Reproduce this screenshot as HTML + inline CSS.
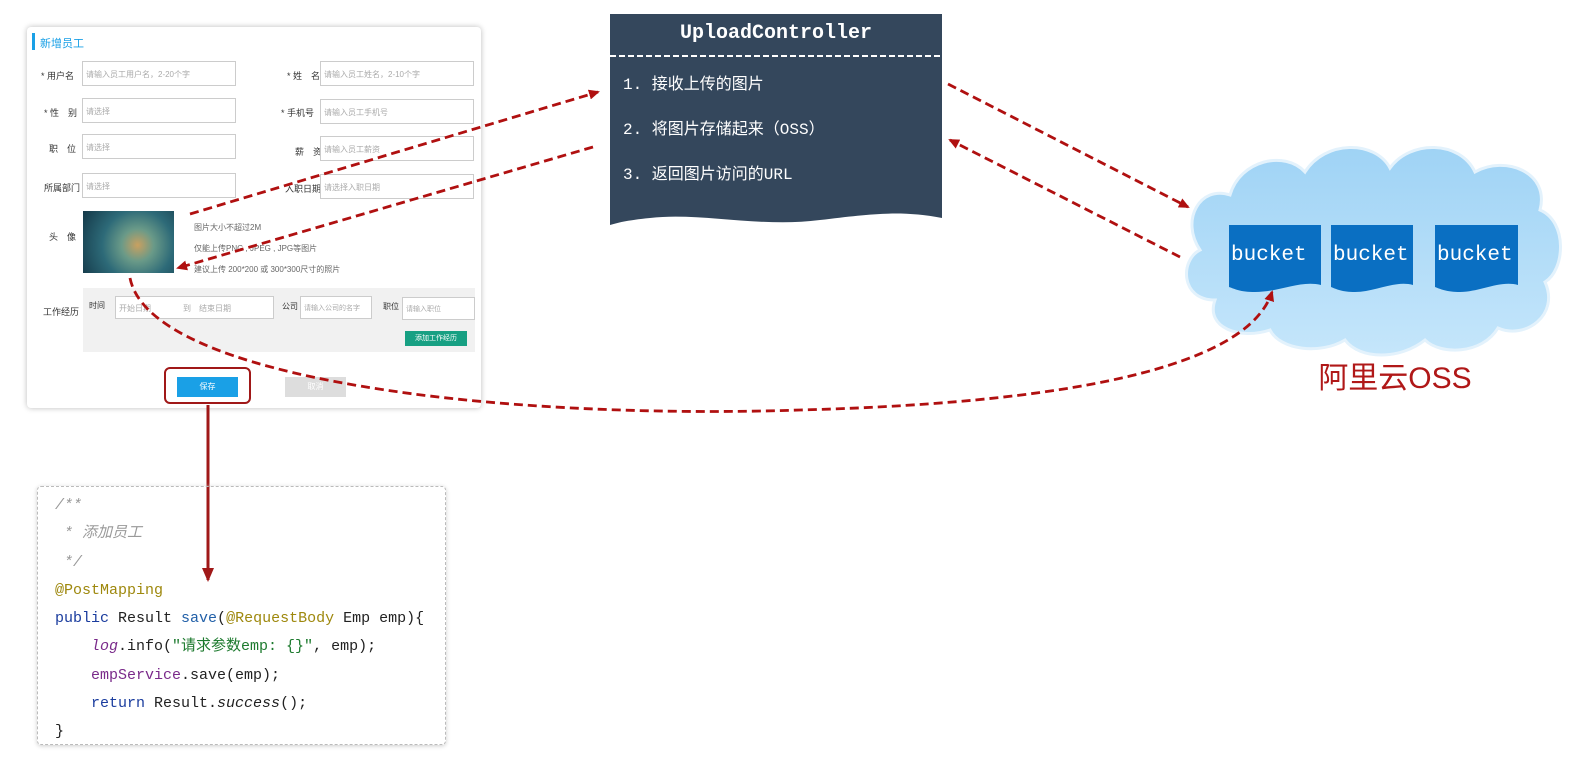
<!DOCTYPE html>
<html><head><meta charset="utf-8"><style>
body{margin:0;width:1579px;height:769px;background:#fff;position:relative;overflow:hidden;font-family:"Liberation Sans","Noto Sans CJK SC",sans-serif}
.a{position:absolute}
.card{left:27px;top:27px;width:454px;height:381px;background:#fff;box-shadow:0 0 6px #bbb;border-radius:4px}
.lbl{font-size:9px;color:#333}
.in{border:1px solid #ccc;height:25px;background:#fff;font-size:8px;color:#aaa;line-height:25px;padding-left:3px;box-sizing:border-box}
.ph{font-size:8px;color:#666}
.code{left:37px;top:486px;width:409px;height:259px;border:1px dashed #bbb;border-radius:4px;box-shadow:0 1px 4px #ccc;font-family:"Liberation Mono","Noto Sans CJK SC",monospace;font-size:15px;line-height:28.3px;padding:5px 0 0 17px;box-sizing:border-box;white-space:pre;color:#222}
.cm{color:#999;font-style:italic}.an{color:#9e880d}.kw{color:#1a3c9e}.fn{color:#2260a8}.it{font-style:italic;color:#7a2a8a}.st{color:#1d7a2e}
</style></head><body>
<div class="a card"></div>
<div class="a" style="left:32px;top:33px;width:3px;height:17px;background:#1aa0e6"></div>
<div class="a" style="left:40px;top:35px;font-size:11px;color:#1aa0e6">新增员工</div>
<div class="a lbl" style="left:41px;top:69px">* 用户名</div>
<div class="a lbl" style="left:44px;top:106px">* 性　别</div>
<div class="a lbl" style="left:49px;top:142px">职　位</div>
<div class="a lbl" style="left:44px;top:181px">所属部门</div>
<div class="a lbl" style="left:49px;top:230px">头　像</div>
<div class="a lbl" style="left:43px;top:305px">工作经历</div>
<div class="a lbl" style="left:287px;top:69px">* 姓　名</div>
<div class="a lbl" style="left:281px;top:106px">* 手机号</div>
<div class="a lbl" style="left:295px;top:145px">薪　资</div>
<div class="a lbl" style="left:285px;top:182px">入职日期</div>
<div class="a in" style="left:82px;top:61px;width:154px">请输入员工用户名，2-20个字</div>
<div class="a in" style="left:82px;top:98px;width:154px">请选择</div>
<div class="a in" style="left:82px;top:134px;width:154px">请选择</div>
<div class="a in" style="left:82px;top:173px;width:154px">请选择</div>
<div class="a in" style="left:320px;top:61px;width:154px">请输入员工姓名，2-10个字</div>
<div class="a in" style="left:320px;top:99px;width:154px">请输入员工手机号</div>
<div class="a in" style="left:320px;top:136px;width:154px">请输入员工薪资</div>
<div class="a in" style="left:320px;top:174px;width:154px">请选择入职日期</div>
<div class="a" style="left:83px;top:211px;width:91px;height:62px;background:radial-gradient(circle at 60% 55%,#c9a060 0,#6a9a88 25%,#2d6a78 55%,#143848 100%)"></div>
<div class="a ph" style="left:194px;top:222px">图片大小不超过2M</div>
<div class="a ph" style="left:194px;top:243px">仅能上传PNG , JPEG , JPG等图片</div>
<div class="a ph" style="left:194px;top:264px">建议上传 200*200 或 300*300尺寸的照片</div>
<div class="a" style="left:83px;top:288px;width:392px;height:64px;background:#f1f1f1"></div>
<div class="a lbl" style="left:89px;top:300px;font-size:8px">时间</div>
<div class="a in" style="left:115px;top:296px;width:159px;height:23px;line-height:23px">开始日期　　　　到　结束日期</div>
<div class="a lbl" style="left:282px;top:301px;font-size:8px">公司</div>
<div class="a in" style="left:300px;top:296px;width:72px;height:23px;line-height:23px;font-size:7px">请输入公司的名字</div>
<div class="a lbl" style="left:383px;top:301px;font-size:8px">职位</div>
<div class="a in" style="left:402px;top:297px;width:73px;height:23px;line-height:23px;font-size:7px">请输入职位</div>
<div class="a" style="left:405px;top:331px;width:62px;height:15px;background:#17a083;color:#fff;font-size:7px;text-align:center;line-height:15px">添加工作经历</div>
<div class="a" style="left:164px;top:367px;width:87px;height:37px;border:2px solid #a01818;border-radius:6px;box-sizing:border-box"></div>
<div class="a" style="left:177px;top:377px;width:61px;height:20px;background:#1aa0e6;color:#fff;font-size:8px;text-align:center;line-height:20px">保存</div>
<div class="a" style="left:285px;top:377px;width:61px;height:20px;background:#ddd;color:#fff;font-size:8px;text-align:center;line-height:20px">取消</div>

<svg class="a" style="left:0;top:0" width="1579" height="769">
<defs><marker id="m" markerWidth="11" markerHeight="10" refX="9" refY="5" orient="auto" markerUnits="userSpaceOnUse"><path d="M0,0L11,5L0,10z" fill="#b01010"/></marker>
<marker id="m2" markerWidth="14" markerHeight="12" refX="12" refY="6" orient="auto" markerUnits="userSpaceOnUse"><path d="M0,0L14,6L0,12z" fill="#a01818"/></marker>
<linearGradient id="cg" x1="0" y1="0" x2="0" y2="1"><stop offset="0" stop-color="#9fd3f5"/><stop offset="1" stop-color="#c5e6fb"/></linearGradient></defs>
<path d="M610,14H942V218C900,210 870,214 820,220 C760,228 700,212 650,218 C630,220 620,222 610,225Z" fill="#34475c"/>
<line x1="610" y1="56" x2="942" y2="56" stroke="#fff" stroke-width="2" stroke-dasharray="6,3"/>
<text x="776" y="38" fill="#fff" font-family="Liberation Mono,monospace" font-weight="bold" font-size="20" text-anchor="middle">UploadController</text>
<g fill="#fff" font-family="Liberation Mono,Noto Sans CJK SC,monospace" font-size="16">
<text x="623" y="89">1. 接收上传的图片</text>
<text x="623" y="134">2. 将图片存储起来（OSS）</text>
<text x="623" y="179">3. 返回图片访问的URL</text></g>
<path d="M1215,300 C1180,300 1180,260 1200,250 C1180,220 1200,185 1230,195 C1240,160 1285,150 1305,172 C1325,140 1375,140 1390,168 C1410,140 1460,140 1475,172 C1505,155 1550,172 1540,210 C1568,222 1565,270 1545,282 C1560,315 1525,340 1498,328 C1482,355 1440,355 1425,340 C1400,360 1360,360 1345,340 C1320,355 1280,350 1270,330 C1240,340 1205,328 1215,300Z" fill="url(#cg)" stroke="#e3f2fc" stroke-width="3"/>
<g fill="#0a6fc2">
<path d="M1229,225H1321V285C1300,280 1280,292 1255,292C1240,292 1235,289 1229,287Z"/>
<path d="M1331,225H1413V285C1395,280 1375,292 1355,292C1342,292 1336,289 1331,287Z"/>
<path d="M1435,225H1518V285C1500,280 1480,292 1460,292C1447,292 1440,289 1435,287Z"/></g>
<g fill="#fff" font-family="Liberation Mono,monospace" font-size="21">
<text x="1231" y="260">bucket</text><text x="1333" y="260">bucket</text><text x="1437" y="260">bucket</text></g>
<text x="1395" y="388" fill="#b01818" font-size="30" text-anchor="middle" font-family="Liberation Sans,Noto Sans CJK SC,sans-serif">阿里云OSS</text>
<g stroke="#b01010" stroke-width="2.8" stroke-dasharray="9,5" fill="none" marker-end="url(#m)">
<path d="M190,214 L598,92"/>
<path d="M593,147 L178,268"/>
<path d="M948,84 L1188,207"/>
<path d="M1180,257 L950,140"/>
<path d="M130,278 C150,380 500,420 800,410 C1100,402 1250,360 1272,292"/></g>
<line x1="208" y1="405" x2="208" y2="580" stroke="#a01818" stroke-width="3" marker-end="url(#m2)"/>
</svg>

<div class="a code"><span class="cm">/**
 * 添加员工
 */</span>
<span class="an">@PostMapping</span>
<span class="kw">public</span> Result <span class="fn">save</span>(<span class="an">@RequestBody</span> Emp emp){
    <span class="it">log</span>.info(<span class="st">"请求参数emp: {}"</span>, emp);
    <span class="it" style="font-style:normal">empService</span>.save(emp);
    <span class="kw">return</span> Result.<span style="font-style:italic">success</span>();
}</div>
</body></html>
